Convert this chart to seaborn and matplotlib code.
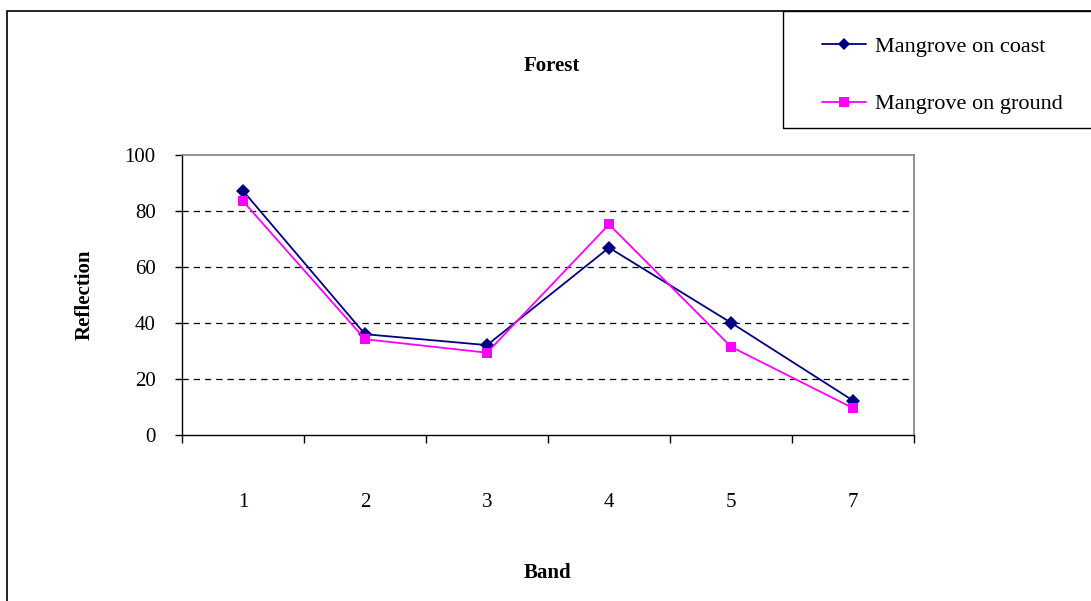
import matplotlib
matplotlib.use("Agg")
import matplotlib.pyplot as plt
from matplotlib.patches import Rectangle
from matplotlib.lines import Line2D
import seaborn as sns
import pandas as pd

bands = ["1", "2", "3", "4", "5", "7"]
coast = [87.2, 36.0, 32.1, 66.9, 40.1, 12.3]
ground = [83.5, 34.2, 29.4, 75.2, 31.5, 9.6]
series_names = ["Mangrove on coast", "Mangrove on ground"]

sns.set_theme(style="white")
plt.rcParams["font.family"] = ["Liberation Serif", "DejaVu Serif"]
plt.rcParams["text.color"] = "black"
plt.rcParams["xtick.color"] = "black"
plt.rcParams["ytick.color"] = "black"

df = pd.DataFrame({
    "pos": list(range(len(bands))) * 2,
    "Reflection": coast + ground,
    "series": [series_names[0]] * len(bands) + [series_names[1]] * len(bands),
})

fig = plt.figure(figsize=(10.91, 6.01), dpi=100)
ax = fig.add_axes([182 / 1091, 1 - 435 / 601, (914 - 182) / 1091, (435 - 155) / 601])

palette = {series_names[0]: "#000080", series_names[1]: "#FF00FF"}
markers = {series_names[0]: "D", series_names[1]: "s"}
sns.lineplot(data=df, x="pos", y="Reflection", hue="series", style="series",
             palette=palette, markers=markers, dashes=False, markersize=7.5,
             markeredgewidth=0, linewidth=1.3, ax=ax, legend=False)

ax.set_xlim(-0.5, len(bands) - 0.5)
ax.set_ylim(0, 100)
ax.set_yticks([0, 20, 40, 60, 80, 100])
ax.set_yticklabels(["0", "20", "40", "60", "80", "100"], fontsize=15)

# category boundaries carry the tick marks, labels sit at the centres
ax.set_xticks([i - 0.5 for i in range(len(bands) + 1)])
ax.set_xticklabels([])
ax.set_xticks(range(len(bands)), minor=True)
ax.set_xticklabels(bands, minor=True, fontsize=15)
ax.tick_params(axis="x", which="major", direction="out", length=6, width=1, color="black", bottom=True)
ax.tick_params(axis="x", which="minor", length=0, pad=42, bottom=True)
ax.tick_params(axis="y", which="major", direction="out", length=5, width=1, color="black", left=True, pad=14)

for yv in [20, 40, 60, 80]:
    ax.axhline(yv, color="black", linestyle=(0, (5, 4)), linewidth=0.9, zorder=0)

ax.set_xlabel("")
ax.set_ylabel("")
for side in ["left", "bottom"]:
    ax.spines[side].set_color("black")
    ax.spines[side].set_linewidth(1.0)
for side in ["top", "right"]:
    ax.spines[side].set_color("#808080")
    ax.spines[side].set_linewidth(1.2)

fig.text(552 / 1091, 1 - 66 / 601, "Forest", fontsize=15, fontweight="bold", ha="center", va="center")
fig.text(547 / 1091, 1 - 573 / 601, "Band", fontsize=15, fontweight="bold", ha="center", va="center")
fig.text(85 / 1091, 1 - 295 / 601, "Reflection", fontsize=15, fontweight="bold",
         ha="center", va="center", rotation=90)

# outer chart frame and legend box
fig.patches.append(Rectangle((7 / 1091, -0.1), 1.2, 1 - 11 / 601 + 0.1, transform=fig.transFigure,
                             fill=False, edgecolor="black", linewidth=1.2))
fig.patches.append(Rectangle((783 / 1091, 1 - 128 / 601), 0.5, 117 / 601, transform=fig.transFigure,
                             facecolor="white", edgecolor="black", linewidth=1.0))

handles = [
    Line2D([], [], color="#000080", marker="D", markersize=6.5, markeredgewidth=0, linewidth=1.3),
    Line2D([], [], color="#FF00FF", marker="s", markersize=7, markeredgewidth=0, linewidth=1.3),
]
fig.legend(handles, series_names, loc="upper left", bbox_to_anchor=(822 / 1091, 1 - 36 / 601),
           frameon=False, fontsize=16, handlelength=2.0, handletextpad=0.4, labelspacing=1.68,
           borderaxespad=0, borderpad=0)

fig.savefig("out.png", dpi=100)
